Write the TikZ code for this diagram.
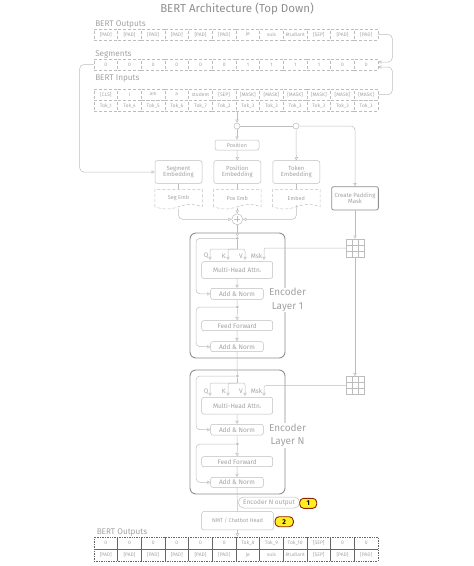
\documentclass[tikz,border=0pt]{standalone}
\usepackage{fontspec}
\setmainfont{Fira Sans}
\usetikzlibrary{arrows.meta,calc}
\definecolor{ln}{HTML}{BDBDBD}
\definecolor{tx}{HTML}{A3A3A3}
\definecolor{dk}{HTML}{8F8F8F}
\definecolor{badgefill}{HTML}{FFEE22}
\definecolor{badgeedge}{HTML}{8B2500}
\newcommand{\myfs}[1]{\fontsize{#1}{#1}\selectfont}
\begin{document}
\begin{tikzpicture}[x=1pt,y=-1pt,line width=0.5pt,
  arr/.style={draw=ln,-{Triangle[open,length=3.2pt,width=3.4pt]}},
  con/.style={draw=ln},
  rc/.style={rounded corners=4pt},
  cell/.style={draw=ln,densely dashed,minimum width=23.67pt,minimum height=11pt,inner sep=0pt,text=tx,font=\myfs{5}},
  bcell/.style={draw=black!60,densely dotted,line width=0.7pt,minimum width=23.67pt,minimum height=12pt,inner sep=0pt,text=tx,font=\myfs{5}},
  lbl/.style={text=tx,font=\myfs{8.2},anchor=west,inner sep=0pt},
  box/.style={draw=ln,fill=white,rounded corners=2pt,inner sep=0pt,text=tx,align=center},
  embtxt/.style={inner sep=0pt,text=tx,font=\myfs{5.5},minimum width=47pt,minimum height=17pt},
  docshape/.style={draw=ln,densely dashed},
  dot/.style={circle,fill=ln,inner sep=0pt,minimum size=3pt},
  ring/.style={circle,draw=ln,fill=white,inner sep=0pt,minimum size=6pt},
  qk/.style={text=tx,font=\myfs{6.5},inner sep=0pt},
  gridbox/.style={draw=ln,fill=white,minimum size=18pt,inner sep=0pt,
    path picture={\foreach \k in {1,2}{
      \draw[ln] ($(path picture bounding box.north west)+(\k*6pt,0pt)$) -- ($(path picture bounding box.south west)+(\k*6pt,0pt)$);
      \draw[ln] ($(path picture bounding box.north west)+(0pt,-\k*6pt)$) -- ($(path picture bounding box.north east)+(0pt,-\k*6pt)$);}}},
  encbox/.style={draw=dk,line width=0.9pt,rounded corners=6pt,minimum width=95pt,inner sep=0pt},
  enclbl/.style={text=tx,font=\fontsize{10}{13.4}\selectfont,align=center,fill=white,inner sep=0.5pt},
  badge/.style={fill=badgefill,draw=badgeedge,line width=0.9pt,rounded corners=4pt,minimum height=10pt,inner sep=0pt,font=\myfs{7}\bfseries,text=black}
]
\useasboundingbox (0,0) rectangle (474,566);

% title and labels
\node[text=dk,font=\myfs{11.5}] (title) at (237,9) {BERT Architecture (Top Down)};
\node[lbl] (lout) at (95,24) {BERT Outputs};
\node[lbl] (lseg) at (95,54) {Segments};
\node[lbl] (lin) at (95,79) {BERT Inputs};

% top rows
\foreach \t [count=\i] in {{[PAD]},{[PAD]},{[PAD]},{[PAD]},{[PAD]},{[PAD]},je,suis,étudiant,{[SEP]},{[PAD]},{[PAD]}}
  \node[cell] (out-\i) at ({94+(\i-0.5)*23.667},34.5) {\t};
\foreach \t [count=\i] in {0,0,0,0,0,0,1,1,1,1,0,0}
  \node[cell] (seg-\i) at ({94+(\i-0.5)*23.667},64.5) {\t};
\foreach \t [count=\i] in {{[CLS]},I,am,a,student,{[SEP]},{[MASK]},{[MASK]},{[MASK]},{[MASK]},{[MASK]},{[MASK]}}
  \node[cell] (in-\i) at ({94+(\i-0.5)*23.667},94.5) {\t};
\foreach \t [count=\i] in {Tok\_1,Tok\_4,Tok\_5,Tok\_6,Tok\_7,Tok\_2,Tok\_3,Tok\_3,Tok\_3,Tok\_3,Tok\_3,Tok\_3}
  \node[cell] (tok-\i) at ({94+(\i-0.5)*23.667},105.5) {\t};

% top connectors
\draw[arr,rc] (out-12.east) -- ++(14pt,0pt) |- ([yshift=2.5pt]seg-12.east);
\draw[arr,rc] (in-12.east) -- ++(14pt,0pt) |- ([yshift=-2.5pt]seg-12.east);

% splitting rings
\node[ring] (c1) at (237,126) {};
\node[ring] (c2) at (296,126) {};
\draw[arr] (tok-6.south east -| c1.north) -- (c1.north);
\draw[con] (c1.east) -- (c2.west);

% embeddings
\node[box,font=\myfs{5.5},minimum width=44pt,minimum height=10pt] (pos) at (237,145) {Position};
\node[box,font=\myfs{6},minimum width=47pt,minimum height=22.6pt] (segE) at (178.5,172) {Segment\\Embedding};
\node[box,font=\myfs{6},minimum width=47pt,minimum height=22.6pt] (posE) at (237.3,172) {Position\\Embedding};
\node[box,font=\myfs{6},minimum width=47pt,minimum height=22.6pt] (tokE) at (296.3,172) {Token\\Embedding};
\node[box,draw=dk,line width=0.8pt,font=\myfs{6},minimum width=46.7pt,minimum height=23.3pt] (cpm) at (355,198.3) {Create Padding\\Mask};

\draw[arr] (c1.south) -- (pos.north);
\draw[arr] (pos.south) -- (posE.north);
\draw[arr] (c2.south) -- (tokE.north);
\draw[arr,rc] (c2.east) -| (cpm.north);
\draw[arr,rc] (seg-1.west) -- ++(-14pt,0pt) |- (segE.west);

% embedding outputs (document shapes)
\foreach \n/\x/\t in {segemb/178.5/Seg Emb,posemb/237.3/Pos Emb,embed/296.3/Embed}{
  \node[embtxt] (\n) at (\x,198) {\t};
  \draw[docshape] (\n.south west) -- (\n.north west) -- (\n.north east) -- (\n.south east)
     .. controls +(-9pt,3pt) and +(9pt,3pt) .. (\n.south)
     .. controls +(-9pt,-3pt) and +(9pt,-3pt) .. (\n.south west);
}
\draw[con] (segE.south) -- (segemb.north);
\draw[con] (posE.south) -- (posemb.north);
\draw[con] (tokE.south) -- (embed.north);

% sum
\node[circle,draw=ln,fill=white,minimum size=11pt,inner sep=0pt] (plus) at (237.3,219.3) {};
\draw[ln] ([yshift=3pt]plus.center) -- ([yshift=-3pt]plus.center) ([xshift=-3pt]plus.center) -- ([xshift=3pt]plus.center);
\draw[arr,rc] ([yshift=-2pt]segemb.south) |- (plus.west);
\draw[arr,rc] ([yshift=2pt]embed.south) |- (plus.east);
\draw[arr] ([yshift=-1pt]posemb.south) -- (plus.north);

% encoder boxes
\node[encbox,minimum height=125pt] (enc1) at (237.5,295.5) {};
\node[encbox,minimum height=124pt] (encN) at (237.5,432) {};

% mask grids
\node[gridbox] (g1) at (355,248) {};
\node[gridbox] (g2) at (355,385.5) {};
\draw[arr] (cpm.south) -- (g1.north);
\draw[arr] (g1.south) -- (g2.north);

% ---------- encoder layer 1
\node[dot] (d1a) at (237.3,238.3) {};
\node[box,font=\myfs{6.5},minimum width=71pt,minimum height=16.6pt] (mha1) at (237.2,270) {Multi-Head Attn.};
\node[box,font=\myfs{6.5},minimum width=52.6pt,minimum height=11pt] (an1a) at (237,293.8) {Add \& Norm};
\node[dot] (d1b) at (237.3,307) {};
\node[box,font=\myfs{6.5},minimum width=71pt,minimum height=10pt] (ff1) at (237.2,325.7) {Feed Forward};
\node[box,font=\myfs{6.5},minimum width=52.6pt,minimum height=10pt] (an1b) at (237,346.7) {Add \& Norm};
\coordinate (t1) at (237.3,249);
\coordinate (qa1) at (210,260);
\coordinate (ka1) at (228,260);
\coordinate (va1) at (245,260);
\coordinate (ma1) at (264,260);
\coordinate (r1a) at (196,238.3);
\coordinate (r1b) at (196,307);
\draw[arr] (plus.south) -- (d1a.north);
\draw[con] (d1a) -- (t1);
\draw[arr,rounded corners=2pt] (t1) -| (qa1);
\draw[arr,rounded corners=2pt] (t1) -| (ka1);
\draw[arr,rounded corners=2pt] (t1) -| (va1);
\draw[arr,rounded corners=2pt] (g1.west) -| (ma1);
\node[qk] (q1) at (206,256) {Q};
\node[qk] (k1) at (223.8,256) {K};
\node[qk] (v1) at (241,256) {V};
\node[qk] (m1) at (256.5,256) {Msk};
\draw[arr,rc] (d1a) -- (r1a) |- (an1a.west);
\draw[arr] (mha1.south) -- (an1a.north);
\draw[con] (an1a.south) -- (d1b);
\draw[arr] (d1b) -- (ff1.north);
\draw[arr] (ff1.south) -- (an1b.north);
\draw[arr,rc] (d1b) -- (r1b) |- (an1b.west);
\node[enclbl] (el1) at (287.5,300) {Encoder\\Layer 1};

% ---------- encoder layer N
\node[dot] (dNa) at (237.3,376) {};
\node[box,font=\myfs{6.5},minimum width=71pt,minimum height=16.6pt] (mhaN) at (237.2,405.7) {Multi-Head Attn.};
\node[box,font=\myfs{6.5},minimum width=52.6pt,minimum height=10.7pt] (anNa) at (237,429.7) {Add \& Norm};
\node[dot] (dNb) at (237.3,444) {};
\node[box,font=\myfs{6.5},minimum width=71pt,minimum height=10pt] (ffN) at (237.2,461.7) {Feed Forward};
\node[box,font=\myfs{6.5},minimum width=52.6pt,minimum height=10pt] (anNb) at (237,482.3) {Add \& Norm};
\coordinate (tN) at (237.3,383);
\coordinate (qaN) at (210,396);
\coordinate (kaN) at (228,396);
\coordinate (vaN) at (245,396);
\coordinate (maN) at (264,396);
\coordinate (rNa) at (196,376);
\coordinate (rNb) at (196,444);
\draw[con] (an1b.south) -- (dNa);
\draw[con] (dNa) -- (tN);
\draw[arr,rounded corners=2pt] (tN) -| (qaN);
\draw[arr,rounded corners=2pt] (tN) -| (kaN);
\draw[arr,rounded corners=2pt] (tN) -| (vaN);
\draw[arr,rounded corners=2pt] (g2.west) -| (maN);
\node[qk] (qN) at (206,391.5) {Q};
\node[qk] (kN) at (223.8,391.5) {K};
\node[qk] (vN) at (241,391.5) {V};
\node[qk] (mN) at (256.5,391.5) {Msk};
\draw[arr,rc] (dNa) -- (rNa) |- (anNa.west);
\draw[arr] (mhaN.south) -- (anNa.north);
\draw[con] (anNa.south) -- (dNb);
\draw[arr] (dNb) -- (ffN.north);
\draw[arr] (ffN.south) -- (anNb.north);
\draw[arr,rc] (dNb) -- (rNb) |- (anNb.west);
\node[enclbl] (elN) at (287.5,435.5) {Encoder\\Layer N};

% ---------- output head
\node[draw=ln,fill=white,rounded corners=5pt,minimum width=61pt,minimum height=11pt,inner sep=0pt,text=tx,font=\myfs{6.5}] (encout) at (269,502.5) {Encoder N output};
\node[badge,minimum width=17pt] (b1) at (308.2,503.3) {1};
\node[box,rounded corners=1.5pt,font=\myfs{5.5},minimum width=71.6pt,minimum height=18.3pt] (nmt) at (237.5,520.8) {NMT / Chatbot Head};
\node[badge,minimum width=18.3pt] (b2) at (284.2,521.7) {2};
\draw[con] (anNb.south) -- (nmt.north);

% bottom outputs
\node[lbl] (lbot) at (96.5,532.3) {BERT Outputs};
\foreach \t [count=\i] in {0,0,0,0,0,0,Tok\_8,Tok\_9,Tok\_10,{[SEP]},0,0}
  \node[bcell] (bo-\i) at ({94+(\i-0.5)*23.667},543) {\t};
\foreach \t [count=\i] in {{[PAD]},{[PAD]},{[PAD]},{[PAD]},{[PAD]},{[PAD]},je,suis,étudiant,{[SEP]},{[PAD]},{[PAD]}}
  \node[bcell] (bt-\i) at ({94+(\i-0.5)*23.667},555) {\t};
\draw[arr] (nmt.south) -- (nmt.south |- bo-6.north);
\end{tikzpicture}
\end{document}
